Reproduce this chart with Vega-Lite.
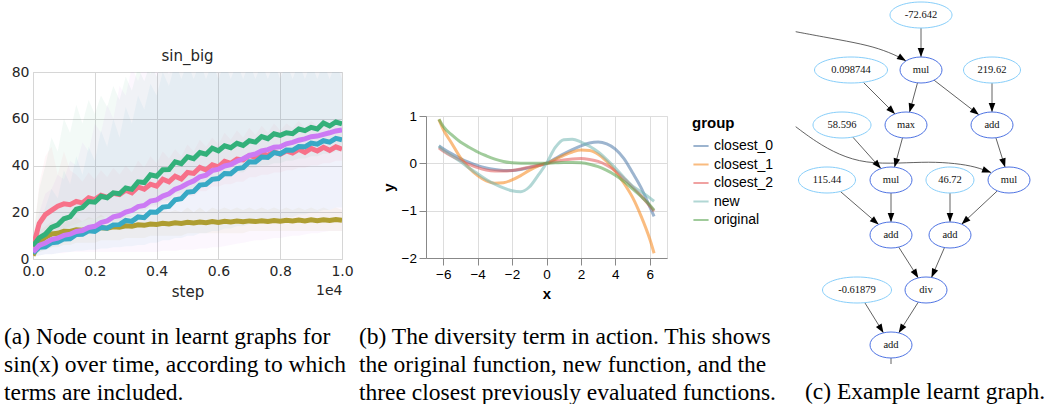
{
"$schema": "https://vega.github.io/schema/vega-lite/v6.json",
"padding": {"left": 4, "top": 0, "right": 0, "bottom": 0},
"bounds": "full",
"spacing": 5,
"resolve": {"scale": {"color": "independent"}, "legend": {"color": "independent"}},
"config": {"font": "Liberation Sans", "view": {"stroke": "#ddd"}},
"datasets": {
"sinbig": [
{"g":"A","s":0,"m":5.0,"lo":2,"hi":8},{"g":"A","s":200,"m":15.2,"lo":5,"hi":32},{"g":"A","s":400,"m":19.0,"lo":8,"hi":44},{"g":"A","s":600,"m":20.8,"lo":10,"hi":48},{"g":"A","s":800,"m":22.6,"lo":12,"hi":36},{"g":"A","s":1000,"m":23.6,"lo":13,"hi":46},{"g":"A","s":1200,"m":23.2,"lo":14,"hi":38},{"g":"A","s":1400,"m":24.6,"lo":15,"hi":36},{"g":"A","s":1600,"m":24.0,"lo":16,"hi":33},{"g":"A","s":1800,"m":26.2,"lo":17,"hi":37},{"g":"A","s":2000,"m":25.4,"lo":17,"hi":34},{"g":"A","s":2200,"m":27.3,"lo":18,"hi":38},{"g":"A","s":2400,"m":26.4,"lo":18,"hi":35},{"g":"A","s":2600,"m":28.1,"lo":19,"hi":39},{"g":"A","s":2800,"m":27.6,"lo":19,"hi":36},{"g":"A","s":3000,"m":29.4,"lo":20,"hi":40},{"g":"A","s":3200,"m":28.3,"lo":20,"hi":37},{"g":"A","s":3400,"m":30.8,"lo":21,"hi":42},{"g":"A","s":3600,"m":29.9,"lo":21,"hi":39},{"g":"A","s":3800,"m":32.0,"lo":22,"hi":44},{"g":"A","s":4000,"m":31.2,"lo":22,"hi":41},{"g":"A","s":4200,"m":34.1,"lo":24,"hi":46},{"g":"A","s":4400,"m":33.0,"lo":24,"hi":43},{"g":"A","s":4600,"m":35.4,"lo":26,"hi":47},{"g":"A","s":4800,"m":34.2,"lo":26,"hi":44},{"g":"A","s":5000,"m":37.0,"lo":27,"hi":49},{"g":"A","s":5200,"m":36.6,"lo":27,"hi":46},{"g":"A","s":5400,"m":39.2,"lo":29,"hi":51},{"g":"A","s":5600,"m":38.1,"lo":29,"hi":48},{"g":"A","s":5800,"m":40.3,"lo":31,"hi":52},{"g":"A","s":6000,"m":39.4,"lo":31,"hi":49},{"g":"A","s":6200,"m":41.8,"lo":32,"hi":54},{"g":"A","s":6400,"m":40.9,"lo":32,"hi":51},{"g":"A","s":6600,"m":42.7,"lo":33,"hi":55},{"g":"A","s":6800,"m":42.4,"lo":33,"hi":52},{"g":"A","s":7000,"m":44.3,"lo":35,"hi":56},{"g":"A","s":7200,"m":43.4,"lo":35,"hi":53},{"g":"A","s":7400,"m":45.2,"lo":36,"hi":57},{"g":"A","s":7600,"m":44.3,"lo":36,"hi":54},{"g":"A","s":7800,"m":45.9,"lo":37,"hi":58},{"g":"A","s":8000,"m":44.8,"lo":37,"hi":55},{"g":"A","s":8200,"m":46.2,"lo":38,"hi":58},{"g":"A","s":8400,"m":45.3,"lo":38,"hi":56},{"g":"A","s":8600,"m":46.9,"lo":39,"hi":59},{"g":"A","s":8800,"m":45.6,"lo":39,"hi":56},{"g":"A","s":9000,"m":47.3,"lo":40,"hi":59},{"g":"A","s":9200,"m":46.2,"lo":40,"hi":57},{"g":"A","s":9400,"m":47.8,"lo":41,"hi":60},{"g":"A","s":9600,"m":46.5,"lo":41,"hi":57},{"g":"A","s":9800,"m":48.0,"lo":42,"hi":60},{"g":"A","s":10000,"m":47.0,"lo":42,"hi":58},
{"g":"B","s":0,"m":1.5,"lo":0.5,"hi":3},{"g":"B","s":200,"m":7.2,"lo":3,"hi":12},{"g":"B","s":400,"m":9.3,"lo":4,"hi":14},{"g":"B","s":600,"m":10.7,"lo":5,"hi":16},{"g":"B","s":800,"m":11.0,"lo":5,"hi":15},{"g":"B","s":1000,"m":11.9,"lo":6,"hi":17},{"g":"B","s":1200,"m":11.8,"lo":6,"hi":16},{"g":"B","s":1400,"m":12.5,"lo":7,"hi":18},{"g":"B","s":1600,"m":12.3,"lo":7,"hi":16},{"g":"B","s":1800,"m":13.0,"lo":7,"hi":18},{"g":"B","s":2000,"m":12.8,"lo":7,"hi":17},{"g":"B","s":2200,"m":13.4,"lo":8,"hi":19},{"g":"B","s":2400,"m":13.2,"lo":8,"hi":17},{"g":"B","s":2600,"m":13.8,"lo":8,"hi":19},{"g":"B","s":2800,"m":13.6,"lo":8,"hi":18},{"g":"B","s":3000,"m":14.2,"lo":9,"hi":20},{"g":"B","s":3200,"m":14.0,"lo":9,"hi":18},{"g":"B","s":3400,"m":14.6,"lo":9,"hi":20},{"g":"B","s":3600,"m":14.4,"lo":9,"hi":19},{"g":"B","s":3800,"m":15.0,"lo":10,"hi":21},{"g":"B","s":4000,"m":14.8,"lo":10,"hi":19},{"g":"B","s":4200,"m":15.3,"lo":10,"hi":21},{"g":"B","s":4400,"m":15.0,"lo":10,"hi":20},{"g":"B","s":4600,"m":15.5,"lo":10,"hi":21},{"g":"B","s":4800,"m":15.2,"lo":10,"hi":20},{"g":"B","s":5000,"m":15.7,"lo":11,"hi":22},{"g":"B","s":5200,"m":15.4,"lo":11,"hi":20},{"g":"B","s":5400,"m":15.8,"lo":11,"hi":22},{"g":"B","s":5600,"m":15.5,"lo":11,"hi":20},{"g":"B","s":5800,"m":16.0,"lo":11,"hi":22},{"g":"B","s":6000,"m":15.6,"lo":11,"hi":21},{"g":"B","s":6200,"m":16.1,"lo":11,"hi":22},{"g":"B","s":6400,"m":15.8,"lo":11,"hi":21},{"g":"B","s":6600,"m":16.2,"lo":11,"hi":22},{"g":"B","s":6800,"m":15.9,"lo":11,"hi":21},{"g":"B","s":7000,"m":16.3,"lo":12,"hi":22},{"g":"B","s":7200,"m":16.0,"lo":12,"hi":21},{"g":"B","s":7400,"m":16.4,"lo":12,"hi":22},{"g":"B","s":7600,"m":16.1,"lo":12,"hi":21},{"g":"B","s":7800,"m":16.5,"lo":12,"hi":22},{"g":"B","s":8000,"m":16.2,"lo":12,"hi":21},{"g":"B","s":8200,"m":16.6,"lo":12,"hi":22},{"g":"B","s":8400,"m":16.3,"lo":12,"hi":21},{"g":"B","s":8600,"m":16.7,"lo":12,"hi":22},{"g":"B","s":8800,"m":16.3,"lo":12,"hi":21},{"g":"B","s":9000,"m":16.8,"lo":12,"hi":22},{"g":"B","s":9200,"m":16.4,"lo":12,"hi":21},{"g":"B","s":9400,"m":16.8,"lo":12,"hi":22},{"g":"B","s":9600,"m":16.5,"lo":12,"hi":21},{"g":"B","s":9800,"m":16.9,"lo":12,"hi":22},{"g":"B","s":10000,"m":16.6,"lo":12,"hi":21},
{"g":"C","s":0,"m":5.5,"lo":2,"hi":8},{"g":"C","s":200,"m":9.0,"lo":3,"hi":30},{"g":"C","s":400,"m":10.6,"lo":4,"hi":40},{"g":"C","s":600,"m":13.5,"lo":5,"hi":52},{"g":"C","s":800,"m":14.6,"lo":6,"hi":46},{"g":"C","s":1000,"m":17.2,"lo":7,"hi":60},{"g":"C","s":1200,"m":18.0,"lo":8,"hi":54},{"g":"C","s":1400,"m":21.3,"lo":10,"hi":66},{"g":"C","s":1600,"m":22.0,"lo":11,"hi":58},{"g":"C","s":1800,"m":24.6,"lo":13,"hi":68},{"g":"C","s":2000,"m":24.3,"lo":13,"hi":62},{"g":"C","s":2200,"m":26.8,"lo":15,"hi":70},{"g":"C","s":2400,"m":26.2,"lo":15,"hi":65},{"g":"C","s":2600,"m":28.3,"lo":16,"hi":74},{"g":"C","s":2800,"m":27.9,"lo":16,"hi":68},{"g":"C","s":3000,"m":30.4,"lo":18,"hi":78},{"g":"C","s":3200,"m":29.8,"lo":18,"hi":72},{"g":"C","s":3400,"m":33.0,"lo":20,"hi":82},{"g":"C","s":3600,"m":32.7,"lo":20,"hi":76},{"g":"C","s":3800,"m":36.0,"lo":23,"hi":84},{"g":"C","s":4000,"m":35.4,"lo":23,"hi":78},{"g":"C","s":4200,"m":38.2,"lo":25,"hi":85},{"g":"C","s":4400,"m":38.3,"lo":25,"hi":79},{"g":"C","s":4600,"m":41.6,"lo":28,"hi":85},{"g":"C","s":4800,"m":40.8,"lo":28,"hi":80},{"g":"C","s":5000,"m":43.7,"lo":30,"hi":85},{"g":"C","s":5200,"m":42.9,"lo":30,"hi":80},{"g":"C","s":5400,"m":45.5,"lo":32,"hi":85},{"g":"C","s":5600,"m":44.8,"lo":32,"hi":80},{"g":"C","s":5800,"m":47.4,"lo":34,"hi":85},{"g":"C","s":6000,"m":46.3,"lo":34,"hi":80},{"g":"C","s":6200,"m":48.4,"lo":35,"hi":85},{"g":"C","s":6400,"m":47.6,"lo":35,"hi":80},{"g":"C","s":6600,"m":49.5,"lo":37,"hi":85},{"g":"C","s":6800,"m":48.6,"lo":37,"hi":80},{"g":"C","s":7000,"m":50.6,"lo":39,"hi":85},{"g":"C","s":7200,"m":50.0,"lo":39,"hi":80},{"g":"C","s":7400,"m":52.4,"lo":40,"hi":85},{"g":"C","s":7600,"m":51.5,"lo":40,"hi":80},{"g":"C","s":7800,"m":53.6,"lo":41,"hi":85},{"g":"C","s":8000,"m":52.9,"lo":41,"hi":80},{"g":"C","s":8200,"m":54.0,"lo":42,"hi":85},{"g":"C","s":8400,"m":53.6,"lo":42,"hi":80},{"g":"C","s":8600,"m":55.6,"lo":43,"hi":85},{"g":"C","s":8800,"m":54.9,"lo":43,"hi":80},{"g":"C","s":9000,"m":56.3,"lo":44,"hi":85},{"g":"C","s":9200,"m":55.6,"lo":44,"hi":80},{"g":"C","s":9400,"m":58.2,"lo":45,"hi":85},{"g":"C","s":9600,"m":56.9,"lo":45,"hi":80},{"g":"C","s":9800,"m":58.6,"lo":46,"hi":85},{"g":"C","s":10000,"m":57.8,"lo":46,"hi":80},
{"g":"D","s":0,"m":2.5,"lo":1,"hi":5},{"g":"D","s":200,"m":5.0,"lo":1.5,"hi":15},{"g":"D","s":400,"m":5.2,"lo":2,"hi":22},{"g":"D","s":600,"m":7.0,"lo":2,"hi":30},{"g":"D","s":800,"m":7.2,"lo":2.5,"hi":26},{"g":"D","s":1000,"m":8.6,"lo":3,"hi":38},{"g":"D","s":1200,"m":8.7,"lo":3,"hi":32},{"g":"D","s":1400,"m":10.5,"lo":3.5,"hi":44},{"g":"D","s":1600,"m":10.6,"lo":3.5,"hi":36},{"g":"D","s":1800,"m":12.1,"lo":4,"hi":48},{"g":"D","s":2000,"m":11.8,"lo":4,"hi":42},{"g":"D","s":2200,"m":13.5,"lo":4.5,"hi":55},{"g":"D","s":2400,"m":13.2,"lo":4.5,"hi":48},{"g":"D","s":2600,"m":14.6,"lo":5,"hi":60},{"g":"D","s":2800,"m":14.7,"lo":5,"hi":52},{"g":"D","s":3000,"m":16.5,"lo":5.5,"hi":65},{"g":"D","s":3200,"m":16.1,"lo":5.5,"hi":58},{"g":"D","s":3400,"m":18.0,"lo":6,"hi":70},{"g":"D","s":3600,"m":17.7,"lo":6,"hi":64},{"g":"D","s":3800,"m":20.1,"lo":7,"hi":75},{"g":"D","s":4000,"m":20.0,"lo":7,"hi":70},{"g":"D","s":4200,"m":22.2,"lo":8,"hi":80},{"g":"D","s":4400,"m":22.5,"lo":8,"hi":74},{"g":"D","s":4600,"m":25.3,"lo":9,"hi":84},{"g":"D","s":4800,"m":25.8,"lo":9,"hi":77},{"g":"D","s":5000,"m":28.6,"lo":10,"hi":84},{"g":"D","s":5200,"m":28.9,"lo":10,"hi":77},{"g":"D","s":5400,"m":31.6,"lo":11,"hi":84},{"g":"D","s":5600,"m":31.9,"lo":11,"hi":77},{"g":"D","s":5800,"m":34.1,"lo":12,"hi":84},{"g":"D","s":6000,"m":34.4,"lo":12,"hi":77},{"g":"D","s":6200,"m":36.6,"lo":13,"hi":84},{"g":"D","s":6400,"m":36.5,"lo":13,"hi":77},{"g":"D","s":6600,"m":38.7,"lo":14,"hi":84},{"g":"D","s":6800,"m":39.1,"lo":14,"hi":77},{"g":"D","s":7000,"m":41.6,"lo":15,"hi":84},{"g":"D","s":7200,"m":41.5,"lo":15,"hi":77},{"g":"D","s":7400,"m":43.6,"lo":16,"hi":84},{"g":"D","s":7600,"m":43.4,"lo":16,"hi":77},{"g":"D","s":7800,"m":45.5,"lo":17,"hi":84},{"g":"D","s":8000,"m":45.0,"lo":17,"hi":77},{"g":"D","s":8200,"m":46.6,"lo":18,"hi":84},{"g":"D","s":8400,"m":46.5,"lo":18,"hi":77},{"g":"D","s":8600,"m":48.1,"lo":19,"hi":84},{"g":"D","s":8800,"m":48.0,"lo":19,"hi":77},{"g":"D","s":9000,"m":49.6,"lo":20,"hi":84},{"g":"D","s":9200,"m":49.1,"lo":20,"hi":77},{"g":"D","s":9400,"m":50.6,"lo":21,"hi":84},{"g":"D","s":9600,"m":50.0,"lo":21,"hi":77},{"g":"D","s":9800,"m":51.6,"lo":22,"hi":84},{"g":"D","s":10000,"m":51.0,"lo":22,"hi":77},
{"g":"E","s":0,"m":3.0,"lo":1,"hi":5},{"g":"E","s":200,"m":5.8,"lo":1.5,"hi":20},{"g":"E","s":400,"m":6.8,"lo":2,"hi":28},{"g":"E","s":600,"m":8.3,"lo":2,"hi":30},{"g":"E","s":800,"m":8.9,"lo":2.5,"hi":36},{"g":"E","s":1000,"m":10.1,"lo":2.5,"hi":34},{"g":"E","s":1200,"m":10.6,"lo":3,"hi":42},{"g":"E","s":1400,"m":11.8,"lo":3,"hi":40},{"g":"E","s":1600,"m":12.2,"lo":3,"hi":50},{"g":"E","s":1800,"m":13.5,"lo":3,"hi":46},{"g":"E","s":2000,"m":14.0,"lo":3,"hi":58},{"g":"E","s":2200,"m":15.6,"lo":3,"hi":54},{"g":"E","s":2400,"m":16.3,"lo":3,"hi":66},{"g":"E","s":2600,"m":18.0,"lo":3,"hi":60},{"g":"E","s":2800,"m":18.6,"lo":3,"hi":74},{"g":"E","s":3000,"m":20.1,"lo":3,"hi":70},{"g":"E","s":3200,"m":20.8,"lo":3,"hi":82},{"g":"E","s":3400,"m":22.4,"lo":3,"hi":76},{"g":"E","s":3600,"m":22.9,"lo":3,"hi":84},{"g":"E","s":3800,"m":24.8,"lo":3,"hi":79},{"g":"E","s":4000,"m":25.3,"lo":3,"hi":85},{"g":"E","s":4200,"m":26.9,"lo":3.5,"hi":80},{"g":"E","s":4400,"m":27.9,"lo":3.5,"hi":85},{"g":"E","s":4600,"m":29.8,"lo":3.5,"hi":80},{"g":"E","s":4800,"m":30.8,"lo":4,"hi":85},{"g":"E","s":5000,"m":32.3,"lo":4,"hi":80},{"g":"E","s":5200,"m":33.4,"lo":4,"hi":85},{"g":"E","s":5400,"m":35.2,"lo":4.5,"hi":80},{"g":"E","s":5600,"m":35.9,"lo":4.5,"hi":85},{"g":"E","s":5800,"m":37.8,"lo":5,"hi":80},{"g":"E","s":6000,"m":38.4,"lo":5,"hi":85},{"g":"E","s":6200,"m":39.8,"lo":5.5,"hi":80},{"g":"E","s":6400,"m":40.4,"lo":6,"hi":85},{"g":"E","s":6600,"m":41.8,"lo":6.5,"hi":80},{"g":"E","s":6800,"m":42.9,"lo":7,"hi":85},{"g":"E","s":7000,"m":44.3,"lo":7.5,"hi":80},{"g":"E","s":7200,"m":44.9,"lo":8,"hi":85},{"g":"E","s":7400,"m":46.3,"lo":8,"hi":80},{"g":"E","s":7600,"m":46.8,"lo":8.5,"hi":85},{"g":"E","s":7800,"m":47.8,"lo":9,"hi":80},{"g":"E","s":8000,"m":48.0,"lo":9,"hi":85},{"g":"E","s":8200,"m":49.3,"lo":9.5,"hi":80},{"g":"E","s":8400,"m":49.9,"lo":10,"hi":85},{"g":"E","s":8600,"m":50.8,"lo":10,"hi":80},{"g":"E","s":8800,"m":51.4,"lo":10.5,"hi":85},{"g":"E","s":9000,"m":52.3,"lo":11,"hi":80},{"g":"E","s":9200,"m":52.6,"lo":11,"hi":85},{"g":"E","s":9400,"m":53.3,"lo":11.5,"hi":80},{"g":"E","s":9600,"m":54.0,"lo":12,"hi":85},{"g":"E","s":9800,"m":54.8,"lo":12,"hi":80},{"g":"E","s":10000,"m":55.2,"lo":12,"hi":85}
],
"divdata": [
{"group":"closest_0","x":-6.25,"y":0.37},{"group":"closest_0","x":-6,"y":0.31},{"group":"closest_0","x":-5.5,"y":0.2},{"group":"closest_0","x":-5,"y":0.1},{"group":"closest_0","x":-4.5,"y":0.02},{"group":"closest_0","x":-4,"y":-0.05},{"group":"closest_0","x":-3.5,"y":-0.1},{"group":"closest_0","x":-3,"y":-0.13},{"group":"closest_0","x":-2.5,"y":-0.15},{"group":"closest_0","x":-2,"y":-0.15},{"group":"closest_0","x":-1.5,"y":-0.13},{"group":"closest_0","x":-1,"y":-0.09},{"group":"closest_0","x":-0.5,"y":-0.05},{"group":"closest_0","x":0,"y":0},{"group":"closest_0","x":0.5,"y":0.1},{"group":"closest_0","x":1,"y":0.2},{"group":"closest_0","x":1.5,"y":0.29},{"group":"closest_0","x":2,"y":0.37},{"group":"closest_0","x":2.5,"y":0.43},{"group":"closest_0","x":3,"y":0.45},{"group":"closest_0","x":3.5,"y":0.41},{"group":"closest_0","x":4,"y":0.3},{"group":"closest_0","x":4.5,"y":0.1},{"group":"closest_0","x":5,"y":-0.2},{"group":"closest_0","x":5.5,"y":-0.52},{"group":"closest_0","x":6,"y":-0.92},{"group":"closest_0","x":6.25,"y":-1.12},
{"group":"closest_1","x":-6.25,"y":0.93},{"group":"closest_1","x":-6,"y":0.72},{"group":"closest_1","x":-5.5,"y":0.42},{"group":"closest_1","x":-5,"y":0.12},{"group":"closest_1","x":-4.5,"y":-0.1},{"group":"closest_1","x":-4,"y":-0.26},{"group":"closest_1","x":-3.5,"y":-0.37},{"group":"closest_1","x":-3,"y":-0.42},{"group":"closest_1","x":-2.5,"y":-0.41},{"group":"closest_1","x":-2,"y":-0.35},{"group":"closest_1","x":-1.5,"y":-0.26},{"group":"closest_1","x":-1,"y":-0.15},{"group":"closest_1","x":-0.5,"y":-0.06},{"group":"closest_1","x":0,"y":0},{"group":"closest_1","x":0.5,"y":0.08},{"group":"closest_1","x":1,"y":0.17},{"group":"closest_1","x":1.5,"y":0.24},{"group":"closest_1","x":2,"y":0.28},{"group":"closest_1","x":2.5,"y":0.27},{"group":"closest_1","x":3,"y":0.19},{"group":"closest_1","x":3.5,"y":0.04},{"group":"closest_1","x":4,"y":-0.17},{"group":"closest_1","x":4.5,"y":-0.42},{"group":"closest_1","x":5,"y":-0.72},{"group":"closest_1","x":5.5,"y":-1.12},{"group":"closest_1","x":6,"y":-1.6},{"group":"closest_1","x":6.25,"y":-1.9},
{"group":"closest_2","x":-6.25,"y":0.33},{"group":"closest_2","x":-6,"y":0.26},{"group":"closest_2","x":-5.5,"y":0.15},{"group":"closest_2","x":-5,"y":0.06},{"group":"closest_2","x":-4.5,"y":-0.02},{"group":"closest_2","x":-4,"y":-0.09},{"group":"closest_2","x":-3.5,"y":-0.14},{"group":"closest_2","x":-3,"y":-0.16},{"group":"closest_2","x":-2.5,"y":-0.16},{"group":"closest_2","x":-2,"y":-0.15},{"group":"closest_2","x":-1.5,"y":-0.12},{"group":"closest_2","x":-1,"y":-0.08},{"group":"closest_2","x":-0.5,"y":-0.04},{"group":"closest_2","x":0,"y":0},{"group":"closest_2","x":0.5,"y":0.04},{"group":"closest_2","x":1,"y":0.07},{"group":"closest_2","x":1.5,"y":0.09},{"group":"closest_2","x":2,"y":0.1},{"group":"closest_2","x":2.5,"y":0.08},{"group":"closest_2","x":3,"y":0.04},{"group":"closest_2","x":3.5,"y":-0.04},{"group":"closest_2","x":4,"y":-0.16},{"group":"closest_2","x":4.5,"y":-0.32},{"group":"closest_2","x":5,"y":-0.5},{"group":"closest_2","x":5.5,"y":-0.69},{"group":"closest_2","x":6,"y":-0.9},{"group":"closest_2","x":6.25,"y":-1.01},
{"group":"new","x":-6.25,"y":0.36},{"group":"new","x":-6,"y":0.28},{"group":"new","x":-5.5,"y":0.16},{"group":"new","x":-5,"y":0.04},{"group":"new","x":-4.5,"y":-0.1},{"group":"new","x":-4,"y":-0.22},{"group":"new","x":-3.5,"y":-0.34},{"group":"new","x":-3,"y":-0.44},{"group":"new","x":-2.5,"y":-0.52},{"group":"new","x":-2,"y":-0.58},{"group":"new","x":-1.5,"y":-0.6},{"group":"new","x":-1,"y":-0.5},{"group":"new","x":-0.5,"y":-0.26},{"group":"new","x":0,"y":0},{"group":"new","x":0.5,"y":0.33},{"group":"new","x":1,"y":0.5},{"group":"new","x":1.5,"y":0.51},{"group":"new","x":2,"y":0.45},{"group":"new","x":2.5,"y":0.36},{"group":"new","x":3,"y":0.24},{"group":"new","x":3.5,"y":0.08},{"group":"new","x":4,"y":-0.1},{"group":"new","x":4.5,"y":-0.3},{"group":"new","x":5,"y":-0.48},{"group":"new","x":5.5,"y":-0.6},{"group":"new","x":6,"y":-0.73},{"group":"new","x":6.25,"y":-0.8},
{"group":"original","x":-6.25,"y":0.93},{"group":"original","x":-6,"y":0.78},{"group":"original","x":-5.5,"y":0.6},{"group":"original","x":-5,"y":0.45},{"group":"original","x":-4.5,"y":0.34},{"group":"original","x":-4,"y":0.24},{"group":"original","x":-3.5,"y":0.16},{"group":"original","x":-3,"y":0.09},{"group":"original","x":-2.5,"y":0.04},{"group":"original","x":-2,"y":0.01},{"group":"original","x":-1.5,"y":0},{"group":"original","x":-1,"y":0},{"group":"original","x":-0.5,"y":0},{"group":"original","x":0,"y":0},{"group":"original","x":0.5,"y":0.01},{"group":"original","x":1,"y":0.02},{"group":"original","x":1.5,"y":0.02},{"group":"original","x":2,"y":0.01},{"group":"original","x":2.5,"y":-0.02},{"group":"original","x":3,"y":-0.07},{"group":"original","x":3.5,"y":-0.15},{"group":"original","x":4,"y":-0.25},{"group":"original","x":4.5,"y":-0.38},{"group":"original","x":5,"y":-0.54},{"group":"original","x":5.5,"y":-0.7},{"group":"original","x":6,"y":-0.88},{"group":"original","x":6.25,"y":-0.99}
],
"nodes": [
{"label":"-72.642","kind":"const","x":132,"y":15},
{"label":"0.098744","kind":"const","x":62,"y":70},
{"label":"mul","kind":"op","x":132,"y":70},
{"label":"219.62","kind":"const","x":203,"y":70},
{"label":"58.596","kind":"const","x":53,"y":125},
{"label":"max","kind":"op","x":117,"y":125},
{"label":"add","kind":"op","x":203,"y":125},
{"label":"115.44","kind":"const","x":38,"y":180},
{"label":"mul","kind":"op","x":102,"y":180},
{"label":"46.72","kind":"const","x":161,"y":180},
{"label":"mul","kind":"op","x":220,"y":180},
{"label":"add","kind":"op","x":102,"y":235},
{"label":"add","kind":"op","x":161,"y":235},
{"label":"-0.61879","kind":"const","x":68,"y":290},
{"label":"div","kind":"op","x":137,"y":290},
{"label":"add","kind":"op","x":102,"y":345}
],
"edges": [
{"e":1,"i":0,"x":132,"y":28},{"e":1,"i":1,"x":132,"y":57},
{"e":2,"i":0,"x":6.7,"y":31.7},{"e":2,"i":1,"x":33.3,"y":36.7},{"e":2,"i":2,"x":66.7,"y":42.7},{"e":2,"i":3,"x":90,"y":48.3},{"e":2,"i":4,"x":110,"y":56.7},{"e":2,"i":5,"x":117,"y":61},
{"e":3,"i":0,"x":74.2,"y":82.2},{"e":3,"i":1,"x":106,"y":114},
{"e":4,"i":0,"x":128.5,"y":82.8},{"e":4,"i":1,"x":120.5,"y":112.2},
{"e":5,"i":0,"x":145.1,"y":80.2},{"e":5,"i":1,"x":189.9,"y":114.8},
{"e":6,"i":0,"x":203,"y":83},{"e":6,"i":1,"x":203,"y":112},
{"e":7,"i":0,"x":63.8,"y":137.1},{"e":7,"i":1,"x":91.9,"y":168.6},
{"e":8,"i":0,"x":113.5,"y":137.8},{"e":8,"i":1,"x":105.5,"y":167.2},
{"e":9,"i":0,"x":206.9,"y":137.8},{"e":9,"i":1,"x":216.1,"y":167.2},
{"e":10,"i":0,"x":6.7,"y":126.7},{"e":10,"i":1,"x":26.7,"y":141.7},{"e":10,"i":2,"x":50,"y":155},{"e":10,"i":3,"x":76.7,"y":163.3},{"e":10,"i":4,"x":110,"y":163.3},{"e":10,"i":5,"x":140,"y":161.7},{"e":10,"i":6,"x":166.7,"y":163.3},{"e":10,"i":7,"x":186.7,"y":166.7},{"e":10,"i":8,"x":202,"y":172.5},
{"e":11,"i":0,"x":51.4,"y":191.5},{"e":11,"i":1,"x":89.7,"y":224.5},
{"e":12,"i":0,"x":102,"y":193},{"e":12,"i":1,"x":102,"y":222},
{"e":13,"i":0,"x":161,"y":193},{"e":13,"i":1,"x":161,"y":222},
{"e":14,"i":0,"x":208.4,"y":190.8},{"e":14,"i":1,"x":172.6,"y":224.2},
{"e":15,"i":0,"x":109.7,"y":247.1},{"e":15,"i":1,"x":129.3,"y":277.9},
{"e":16,"i":0,"x":155.5,"y":247.5},{"e":16,"i":1,"x":142.5,"y":277.5},
{"e":17,"i":0,"x":75.8,"y":302.7},{"e":17,"i":1,"x":94.5,"y":332.9},
{"e":18,"i":0,"x":129.3,"y":302.1},{"e":18,"i":1,"x":109.7,"y":332.9},
{"e":19,"i":0,"x":102,"y":358},{"e":19,"i":1,"x":102,"y":364}
],
"arrows": [
{"e":1,"x1":132,"y1":28,"x2":132,"y2":57},
{"e":2,"x1":110,"y1":56.7,"x2":117,"y2":61},
{"e":3,"x1":74.2,"y1":82.2,"x2":106,"y2":114},
{"e":4,"x1":128.5,"y1":82.8,"x2":120.5,"y2":112.2},
{"e":5,"x1":145.1,"y1":80.2,"x2":189.9,"y2":114.8},
{"e":6,"x1":203,"y1":83,"x2":203,"y2":112},
{"e":7,"x1":63.8,"y1":137.1,"x2":91.9,"y2":168.6},
{"e":8,"x1":113.5,"y1":137.8,"x2":105.5,"y2":167.2},
{"e":9,"x1":206.9,"y1":137.8,"x2":216.1,"y2":167.2},
{"e":10,"x1":186.7,"y1":166.7,"x2":202,"y2":172.5},
{"e":11,"x1":51.4,"y1":191.5,"x2":89.7,"y2":224.5},
{"e":12,"x1":102,"y1":193,"x2":102,"y2":222},
{"e":13,"x1":161,"y1":193,"x2":161,"y2":222},
{"e":14,"x1":208.4,"y1":190.8,"x2":172.6,"y2":224.2},
{"e":15,"x1":109.7,"y1":247.1,"x2":129.3,"y2":277.9},
{"e":16,"x1":155.5,"y1":247.5,"x2":142.5,"y2":277.5},
{"e":17,"x1":75.8,"y1":302.7,"x2":94.5,"y2":332.9},
{"e":18,"x1":129.3,"y1":302.1,"x2":109.7,"y2":332.9}
]
},
"hconcat": [
{
"bounds": "flush",
"spacing": 71,
"resolve": {"scale": {"color": "independent"}, "legend": {"color": "independent"}},
"title": {"text": ["(a) Node count in learnt graphs for", "sin(x) over time, according to which", "terms are included."], "orient": "bottom", "anchor": "start", "frame": "group", "dx": -29, "offset": 44, "baseline": "alphabetic", "font": "Liberation Serif", "fontSize": 23.5, "fontWeight": "normal", "color": "#000000", "lineHeight": 28},
"vconcat": [
{"width": 309, "height": 1, "data": {"values": []}, "mark": "point", "view": {"stroke": null}},
{
"width": 309, "height": 187,
"data": {"name": "sinbig"},
"title": {"text": "sin_big", "font": "DejaVu Sans", "fontSize": 15, "fontWeight": "normal", "color": "#262626", "offset": 1},
"view": {"stroke": "#cccccc"},
"resolve": {"scale": {"x": "independent"}, "axis": {"x": "independent"}},
"layer": [
{"mark": {"type": "area", "opacity": 0.06, "clip": true},
"encoding": {
"x": {"field": "s", "type": "quantitative", "scale": {"domain": [0, 10000], "nice": false}, "axis": {"orient": "bottom", "title": "1e4", "titleAnchor": "end", "labels": false, "ticks": false, "domain": false, "grid": false, "titleFont": "DejaVu Sans", "titleFontSize": 14, "titleFontWeight": "normal", "titleColor": "#262626", "titlePadding": 24}},
"y": {"field": "lo", "type": "quantitative", "scale": {"domain": [0, 80], "nice": false}, "axis": {"title": null, "values": [0, 20, 40, 60, 80], "grid": true, "gridColor": "#d6d6d6", "domain": false, "ticks": false, "labelPadding": 4, "labelFont": "DejaVu Sans", "labelFontSize": 14, "labelColor": "#262626", "labelFlush": false}},
"y2": {"field": "hi"},
"color": {"field": "g", "type": "nominal", "scale": {"domain": ["A", "B", "C", "D", "E"], "range": ["#f77189", "#ae9d31", "#33b07a", "#38a9c5", "#cc7af4"]}, "legend": null}
}},
{"mark": {"type": "line", "strokeWidth": 5, "clip": true},
"encoding": {
"x": {"field": "s", "type": "quantitative", "scale": {"domain": [0, 10000], "nice": false}, "axis": {"orient": "bottom", "title": "step", "values": [0, 2000, 4000, 6000, 8000, 10000], "labelExpr": "format(datum.value / 10000, '.1f')", "grid": true, "gridColor": "#d6d6d6", "domain": false, "ticks": false, "labelPadding": 5, "labelFont": "DejaVu Sans", "labelFontSize": 14, "labelColor": "#262626", "labelFlush": false, "labelOverlap": false, "titleFont": "DejaVu Sans", "titleFontSize": 15, "titleFontWeight": "normal", "titleColor": "#262626", "titlePadding": 6}},
"y": {"field": "m", "type": "quantitative"},
"color": {"field": "g", "type": "nominal", "legend": null}
}}
]
}
]
},
{
"bounds": "flush",
"spacing": 115,
"resolve": {"scale": {"color": "independent"}, "legend": {"color": "independent"}},
"title": {"text": ["(b) The diversity term in action. This shows", "the original function, new function, and the", "three closest previously evaluated functions."], "orient": "bottom", "anchor": "start", "frame": "group", "dx": -67, "offset": 42, "baseline": "alphabetic", "font": "Liberation Serif", "fontSize": 23.5, "fontWeight": "normal", "color": "#000000", "lineHeight": 28},
"vconcat": [
{"width": 241, "height": 1, "data": {"values": []}, "mark": "point", "view": {"stroke": null}},
{
"width": 241, "height": 142,
"data": {"name": "divdata"},
"mark": {"type": "line", "strokeWidth": 3, "opacity": 0.55, "interpolate": "monotone"},
"encoding": {
"x": {"field": "x", "type": "quantitative", "scale": {"domain": [-7, 7], "nice": false}, "axis": {"title": "x", "values": [-6, -4, -2, 0, 2, 4, 6], "labelFontSize": 13.5, "titleFontSize": 15, "tickSize": 7, "labelPadding": 2.5, "titlePadding": 5, "labelFlush": false, "gridColor": "#dddddd", "domainColor": "#888888", "tickColor": "#888888"}},
"y": {"field": "y", "type": "quantitative", "scale": {"domain": [-2, 1], "nice": false}, "axis": {"title": "y", "values": [-2, -1, 0, 1], "labelFontSize": 13.5, "titleFontSize": 15, "tickSize": 7, "labelPadding": 2.5, "titlePadding": 5, "labelFlush": false, "gridColor": "#dddddd", "domainColor": "#888888", "tickColor": "#888888"}},
"color": {"field": "group", "type": "nominal", "scale": {"domain": ["closest_0", "closest_1", "closest_2", "new", "original"], "range": ["#4c78a8", "#f58518", "#e45756", "#72b7b2", "#54a24b"]}, "legend": {"title": "group", "titleFontSize": 15, "labelFontSize": 14, "symbolType": "stroke", "symbolSize": 230, "symbolStrokeWidth": 2, "offset": 25, "rowPadding": 2.5, "titlePadding": 6}}
}
}
]
},
{
"width": 270, "height": 370,
"view": {"stroke": null},
"title": {"text": "(c) Example learnt graph.", "orient": "bottom", "anchor": "start", "frame": "group", "dx": 24, "offset": 29, "baseline": "alphabetic", "font": "Liberation Serif", "fontSize": 23.5, "fontWeight": "normal", "color": "#000000"},
"layer": [
{"data": {"name": "edges"},
"mark": {"type": "line", "interpolate": "basis", "stroke": "#3a3a3a", "strokeWidth": 0.8},
"encoding": {
"x": {"field": "x", "type": "quantitative", "scale": {"domain": [-8, 262], "nice": false, "zero": false}, "axis": null},
"y": {"field": "y", "type": "quantitative", "scale": {"domain": [0, 370], "nice": false, "zero": false, "reverse": true}, "axis": null},
"detail": {"field": "e", "type": "nominal"},
"order": {"field": "i", "type": "quantitative"}
}},
{"data": {"name": "arrows"},
"transform": [{"calculate": "atan2(datum.x2 - datum.x1, datum.y1 - datum.y2) * 180 / PI", "as": "dir"}],
"mark": {"type": "point", "filled": true, "color": "#000000", "opacity": 1, "size": 4, "shape": "M0,0L3.3,9L-3.3,9Z"},
"encoding": {
"x": {"field": "x2", "type": "quantitative"},
"y": {"field": "y2", "type": "quantitative"},
"angle": {"field": "dir", "type": "quantitative", "scale": null}
}},
{"data": {"name": "nodes"},
"mark": {"type": "point", "filled": true, "fill": "#ffffff", "opacity": 1, "size": 4, "strokeWidth": 1, "strokeOpacity": 1},
"encoding": {
"x": {"field": "x", "type": "quantitative"},
"y": {"field": "y", "type": "quantitative"},
"shape": {"field": "label", "type": "nominal", "legend": null, "scale": {"domain": ["-72.642", "0.098744", "mul", "219.62", "58.596", "max", "add", "115.44", "46.72", "-0.61879", "div"], "range": [
"M31,0C31,7.18 17.12,13 0,13C-17.12,13 -31,7.18 -31,0C-31,-7.18 -17.12,-13 0,-13C17.12,-13 31,-7.18 31,0Z",
"M36.5,0C36.5,7.18 20.16,13 0,13C-20.16,13 -36.5,7.18 -36.5,0C-36.5,-7.18 -20.16,-13 0,-13C20.16,-13 36.5,-7.18 36.5,0Z",
"M21,0C21,7.18 11.6,13 0,13C-11.6,13 -21,7.18 -21,0C-21,-7.18 -11.6,-13 0,-13C11.6,-13 21,-7.18 21,0Z",
"M28.5,0C28.5,7.18 15.74,13 0,13C-15.74,13 -28.5,7.18 -28.5,0C-28.5,-7.18 -15.74,-13 0,-13C15.74,-13 28.5,-7.18 28.5,0Z",
"M29,0C29,7.18 16.02,13 0,13C-16.02,13 -29,7.18 -29,0C-29,-7.18 -16.02,-13 0,-13C16.02,-13 29,-7.18 29,0Z",
"M21,0C21,7.18 11.6,13 0,13C-11.6,13 -21,7.18 -21,0C-21,-7.18 -11.6,-13 0,-13C11.6,-13 21,-7.18 21,0Z",
"M21,0C21,7.18 11.6,13 0,13C-11.6,13 -21,7.18 -21,0C-21,-7.18 -11.6,-13 0,-13C11.6,-13 21,-7.18 21,0Z",
"M28.5,0C28.5,7.18 15.74,13 0,13C-15.74,13 -28.5,7.18 -28.5,0C-28.5,-7.18 -15.74,-13 0,-13C15.74,-13 28.5,-7.18 28.5,0Z",
"M24,0C24,7.18 13.26,13 0,13C-13.26,13 -24,7.18 -24,0C-24,-7.18 -13.26,-13 0,-13C13.26,-13 24,-7.18 24,0Z",
"M34.5,0C34.5,7.18 19.05,13 0,13C-19.05,13 -34.5,7.18 -34.5,0C-34.5,-7.18 -19.05,-13 0,-13C19.05,-13 34.5,-7.18 34.5,0Z",
"M21,0C21,7.18 11.6,13 0,13C-11.6,13 -21,7.18 -21,0C-21,-7.18 -11.6,-13 0,-13C11.6,-13 21,-7.18 21,0Z"
]}},
"stroke": {"field": "kind", "type": "nominal", "legend": null, "scale": {"domain": ["const", "op"], "range": ["#87cefa", "#4f74e3"]}}
}},
{"data": {"name": "nodes"},
"mark": {"type": "text", "font": "Liberation Serif", "fontSize": 10.5, "color": "#111111", "align": "center", "baseline": "middle"},
"encoding": {
"x": {"field": "x", "type": "quantitative"},
"y": {"field": "y", "type": "quantitative"},
"text": {"field": "label", "type": "nominal"}
}}
]
}
]
}
